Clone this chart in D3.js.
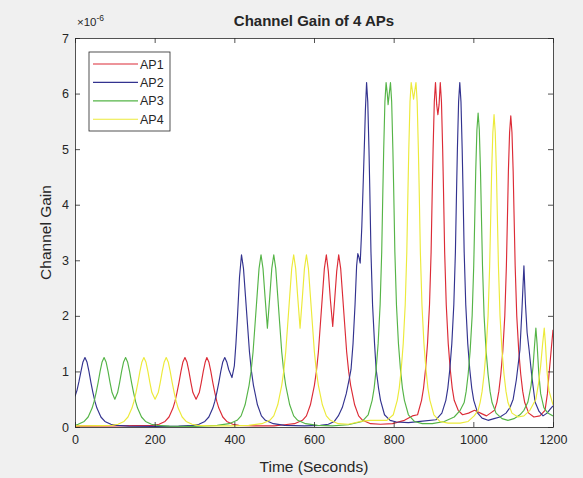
<!DOCTYPE html>
<html>
<head>
<meta charset="utf-8">
<script src="https://cdn.jsdelivr.net/npm/d3@7"></script>
<style>
  html, body { margin: 0; padding: 0; background: #f0f0f0; }
  svg { display: block; }
  text { font-family: "Liberation Sans", Arial, Helvetica, sans-serif; fill: #262626; }
</style>
</head>
<body>
<svg id="chart" width="583" height="478"></svg>
<script>
// ---- Data (channel gain, in units of 1e-6) ----
const timeTicks = [0, 200, 400, 600, 800, 1000, 1200];
const gainTicks = [0, 1, 2, 3, 4, 5, 6, 7];
const seriesNames = ["AP1", "AP2", "AP3", "AP4"];
const seriesColors = ["#dc2b36", "#33338f", "#55b447", "#ecea3a"];

const ap1 = [[0,0.015],[100,0.02],[150,0.025],[196,0.03],[211,0.05],[226,0.1],[236,0.18],[246,0.34],[251,0.46],[256,0.62],[261,0.8],[266,1.0],[271,1.17],[276,1.25],[281,1.17],[286,1.0],[291,0.8],[296,0.62],[304,0.5],[312,0.62],[317,0.8],[322,1.0],[327,1.17],[331,1.25],[336,1.17],[341,1.0],[346,0.8],[351,0.62],[356,0.46],[361,0.34],[371,0.18],[381,0.1],[396,0.05],[411,0.03],[450,0.02],[500,0.02],[526,0.04],
  [551,0.06],[571,0.12],[581,0.2],[591,0.4],[601,0.75],[606,1.0],[611,1.35],[616,1.85],[621,2.35],[626,2.85],[631,3.1],[636,2.8],[641,2.3],[647,1.81],[652,2.3],[657,2.8],[662,3.1],[667,2.85],[672,2.35],[677,1.85],[682,1.35],[687,1.0],[692,0.75],[702,0.4],[712,0.2],[722,0.12],[742,0.06],[767,0.05],[797,0.06],[827,0.12],[847,0.2],
  [860,0.22],[870,0.48],[875,0.7],[880,1.04],[885,1.5],[890,2.2],[894,3.15],[897,4.3],[899,5.0],[902,5.85],[905,6.2],[908,5.8],[911,5.62],[914,5.8],[917,6.2],[920,5.85],[923,5.0],[925,4.3],[928,3.15],[932,2.2],[937,1.5],[942,1.04],[947,0.7],[952,0.48],[962,0.3],[973,0.22],[988,0.25],[1003,0.3],[1018,0.25],[1033,0.2],[1043,0.25],[1053,0.3],
  [1059,0.44],[1064,0.64],[1069,0.95],[1074,1.37],[1079,2.0],[1083,2.9],[1086,3.9],[1088,4.6],[1091,5.3],[1094,5.6],[1097,5.3],[1100,4.6],[1102,3.9],[1105,2.9],[1109,2.0],[1114,1.37],[1119,0.95],[1124,0.64],[1129,0.44],[1139,0.25],[1152,0.18],[1167,0.2],[1180,0.3],[1186,0.6],[1190,0.95],[1195,1.35],[1200,1.75]];

const ap2 = [[0,0.55],[5,0.66],[10,0.82],[15,1.0],[20,1.17],[25,1.25],[30,1.17],[35,1.0],[40,0.8],[45,0.62],[50,0.46],[55,0.34],[65,0.18],[75,0.1],[90,0.05],[105,0.03],[135,0.015],[200,0.01],[260,0.015],[296,0.03],[311,0.05],[326,0.1],[336,0.18],[346,0.34],[351,0.46],[356,0.62],[361,0.8],[366,1.0],[371,1.17],[376,1.25],[381,1.17],[386,1.03],[394,0.89],
  [400,1.1],[404,1.5],[408,2.0],[413,2.7],[418,3.1],[423,2.85],[428,2.35],[433,1.85],[438,1.35],[443,1.0],[448,0.75],[458,0.4],[468,0.2],[478,0.12],[498,0.06],[526,0.03],[576,0.02],[616,0.03],[636,0.05],[651,0.1],[661,0.2],[671,0.35],[681,0.6],[688,0.85],[693,1.04],[698,1.5],[703,2.2],[707,2.9],[710,3.12],[713,3.05],[716,2.95],[720,3.6],[724,4.5],[727,5.2],[729,5.7],[732,6.2],[735,5.85],[738,5.0],[740,4.3],[743,3.15],[747,2.2],[752,1.5],[756,1.04],[762,0.7],[767,0.48],[777,0.22],[791,0.12],
  [807,0.09],[837,0.08],[867,0.1],[906,0.13],[921,0.25],[931,0.48],[936,0.7],[941,1.04],[946,1.5],[951,2.2],[955,3.15],[958,4.3],[960,5.0],[963,5.85],[966,6.2],[969,5.85],[972,5.0],[974,4.3],[977,3.15],[981,2.2],[986,1.5],[991,1.04],[996,0.7],[1001,0.48],[1011,0.25],[1022,0.16],[1037,0.12],[1052,0.15],[1067,0.18],[1082,0.25],[1092,0.35],[1100,0.5],[1108,0.85],[1117,1.39],[1122,2.1],[1127,2.9],[1131,2.2],[1135,1.7],[1140,1.39],[1147,0.9],[1155,0.45],[1165,0.28],[1175,0.2],[1185,0.25],[1193,0.32],[1200,0.38]];

const ap3 = [[0,0.03],[8,0.05],[23,0.1],[33,0.18],[43,0.34],[48,0.46],[53,0.62],[58,0.8],[63,1.0],[68,1.17],[73,1.25],[78,1.17],[83,1.0],[88,0.8],[93,0.62],[100,0.5],[107,0.62],[112,0.8],[117,1.0],[122,1.17],[127,1.25],[132,1.17],[137,1.0],[142,0.8],[147,0.62],[152,0.46],[157,0.34],[167,0.18],[177,0.1],[192,0.05],[207,0.03],[237,0.015],[300,0.01],[357,0.03],[387,0.06],[407,0.12],[417,0.2],[427,0.4],[437,0.75],[442,1.0],[447,1.35],[452,1.85],[457,2.35],[462,2.85],[467,3.1],[472,2.85],[477,2.35],[483,1.78],[489,2.35],[494,2.85],[499,3.1],[504,2.85],[509,2.35],[514,1.85],[519,1.35],[524,1.0],[529,0.75],[539,0.4],[549,0.2],[559,0.12],[579,0.06],[609,0.03],[646,0.02],[686,0.04],
  [721,0.1],[736,0.22],[746,0.48],[751,0.7],[756,1.04],[761,1.5],[766,2.2],[770,3.15],[773,4.3],[775,5.0],[778,5.85],[781,6.2],[784,6.0],[786,5.8],[789,6.0],[792,6.2],[795,5.85],[798,5.0],[800,4.3],[803,3.15],[807,2.2],[812,1.5],[817,1.04],[822,0.7],[827,0.48],[837,0.22],[852,0.1],[872,0.06],[897,0.06],[927,0.1],[952,0.18],[967,0.3],
  [977,0.44],[982,0.64],[987,0.95],[992,1.37],[997,2.0],[1001,2.9],[1004,3.9],[1006,4.6],[1009,5.35],[1012,5.65],[1015,5.35],[1018,4.6],[1020,3.9],[1023,2.9],[1027,2.0],[1032,1.37],[1037,0.95],[1042,0.64],[1047,0.44],[1057,0.25],[1072,0.15],[1087,0.12],[1102,0.15],[1117,0.22],[1127,0.3],[1137,0.45],[1145,0.75],[1150,1.1],[1154,1.5],[1157,1.78],[1160,1.5],[1164,1.0],[1169,0.6],[1177,0.35],[1187,0.25],[1200,0.2]];

const ap4 = [[0,0.02],[60,0.025],[93,0.03],[108,0.05],[123,0.1],[133,0.18],[143,0.34],[148,0.46],[153,0.62],[158,0.8],[163,1.0],[168,1.17],[173,1.25],[178,1.17],[183,1.0],[188,0.8],[193,0.62],[201,0.5],[209,0.62],[214,0.8],[219,1.0],[224,1.17],[229,1.25],[234,1.17],[239,1.0],[244,0.8],[249,0.62],[254,0.46],[259,0.34],[269,0.18],[279,0.1],[294,0.05],[309,0.03],[340,0.02],[400,0.02],[436,0.03],
  [469,0.06],[489,0.12],[499,0.2],[509,0.4],[519,0.75],[524,1.0],[529,1.35],[534,1.85],[539,2.35],[544,2.85],[549,3.1],[554,2.85],[559,2.35],[565,1.78],[571,2.35],[576,2.85],[581,3.1],[586,2.85],[591,2.35],[596,1.85],[601,1.35],[606,1.0],[611,0.75],[621,0.4],[631,0.2],[641,0.12],[661,0.06],[686,0.05],[716,0.1],[741,0.12],[766,0.12],[783,0.12],
  [799,0.22],[809,0.48],[814,0.7],[819,1.04],[824,1.5],[829,2.2],[833,3.15],[836,4.3],[838,5.0],[841,5.85],[844,6.2],[847,6.05],[850,5.9],[853,6.05],[856,6.2],[859,5.85],[862,5.0],[864,4.3],[867,3.15],[871,2.2],[876,1.5],[881,1.04],[886,0.7],[891,0.48],[901,0.22],[916,0.1],[937,0.07],[967,0.07],[987,0.1],[1002,0.2],[1012,0.3],
  [1017,0.44],[1022,0.64],[1027,0.95],[1032,1.37],[1037,2.0],[1041,2.9],[1044,3.9],[1046,4.6],[1049,5.3],[1052,5.62],[1055,5.3],[1058,4.6],[1060,3.9],[1063,2.9],[1067,2.0],[1072,1.37],[1077,0.95],[1082,0.64],[1087,0.44],[1097,0.25],[1112,0.18],[1127,0.2],[1142,0.3],[1157,0.5],[1164,0.8],[1169,1.1],[1174,1.5],[1178,1.78],[1181,1.5],[1185,1.0],[1190,0.65],[1200,0.4]];

const seriesData = [ap1, ap2, ap3, ap4];

// ---- Layout ----
const svg = d3.select("#chart");
const plotLeft = 75, plotRight = 553, plotTop = 38, plotBottom = 427;
const x = d3.scaleLinear().domain([0, 1200]).range([plotLeft, plotRight]);
const y = d3.scaleLinear().domain([0, 7]).range([plotBottom, plotTop]);
const axisColor = "#262626";

// plot background
svg.append("rect").attr("x", plotLeft).attr("y", plotTop)
  .attr("width", plotRight - plotLeft).attr("height", plotBottom - plotTop).attr("fill", "#ffffff");

// lines
const clipId = "plotclip";
svg.append("clipPath").attr("id", clipId).append("rect")
  .attr("x", plotLeft).attr("y", plotTop).attr("width", plotRight - plotLeft).attr("height", plotBottom - plotTop);
const line = d3.line().x(d => x(d[0])).y(d => y(d[1]));
const linesG = svg.append("g").attr("clip-path", `url(#${clipId})`);
seriesData.forEach((s, i) => {
  linesG.append("path").datum(s)
    .attr("d", line)
    .attr("fill", "none")
    .attr("stroke", seriesColors[i])
    .attr("stroke-width", 1.15)
    .attr("stroke-linejoin", "round");
});

// axes
const intFmt = d3.format("d");
function styleAxis(g) {
  g.selectAll("path.domain").attr("stroke", axisColor).attr("stroke-width", 0.8);
  g.selectAll(".tick line").attr("stroke", axisColor).attr("stroke-width", 0.8);
  g.selectAll(".tick text").attr("font-size", 12.5).attr("fill", axisColor)
    .style("font-family", '"Liberation Sans", Arial, sans-serif');
}
const xAxis = svg.append("g").attr("transform", `translate(0,${plotBottom})`)
  .call(d3.axisBottom(x).tickValues(timeTicks).tickFormat(intFmt).tickSizeInner(-5).tickSizeOuter(0).tickPadding(8));
styleAxis(xAxis);
const xAxisTop = svg.append("g").attr("transform", `translate(0,${plotTop})`)
  .call(d3.axisTop(x).tickValues(timeTicks).tickSizeInner(-5).tickSizeOuter(0).tickFormat(""));
styleAxis(xAxisTop);
const yAxis = svg.append("g").attr("transform", `translate(${plotLeft},0)`)
  .call(d3.axisLeft(y).tickValues(gainTicks).tickFormat(intFmt).tickSizeInner(-5).tickSizeOuter(0).tickPadding(6));
styleAxis(yAxis);
const yAxisRight = svg.append("g").attr("transform", `translate(${plotRight},0)`)
  .call(d3.axisRight(y).tickValues(gainTicks).tickSizeInner(-5).tickSizeOuter(0).tickFormat(""));
styleAxis(yAxisRight);

// exponent label
const expo = svg.append("text").attr("x", plotLeft + 2).attr("y", 26)
  .attr("font-size", 11.5).attr("fill", "#555");
expo.append("tspan").text("\u00d710");
expo.append("tspan").attr("dy", -5).attr("font-size", 8.5).text("-6");

// title
svg.append("text").attr("x", (plotLeft + plotRight) / 2).attr("y", 26)
  .attr("text-anchor", "middle").attr("font-size", 15).attr("font-weight", "bold")
  .text("Channel Gain of 4 APs");

// axis labels
svg.append("text").attr("x", (plotLeft + plotRight) / 2).attr("y", 472)
  .attr("text-anchor", "middle").attr("font-size", 15.5)
  .text("Time (Seconds)");
svg.append("text").attr("transform", `translate(51,${(plotTop + plotBottom) / 2}) rotate(-90)`)
  .attr("text-anchor", "middle").attr("font-size", 15.5)
  .text("Channel Gain");

// legend
const lg = svg.append("g");
lg.append("rect").attr("x", 89).attr("y", 52).attr("width", 81).attr("height", 79)
  .attr("fill", "#ffffff").attr("stroke", axisColor).attr("stroke-width", 0.8);
seriesNames.forEach((name, i) => {
  const yy = 64 + i * 18.4;
  lg.append("line").attr("x1", 93).attr("x2", 138).attr("y1", yy).attr("y2", yy)
    .attr("stroke", seriesColors[i]).attr("stroke-width", 1.15);
  lg.append("text").attr("x", 140).attr("y", yy + 4.5).attr("font-size", 12.5)
    .attr("fill", axisColor).text(name);
});
</script>
</body>
</html>
